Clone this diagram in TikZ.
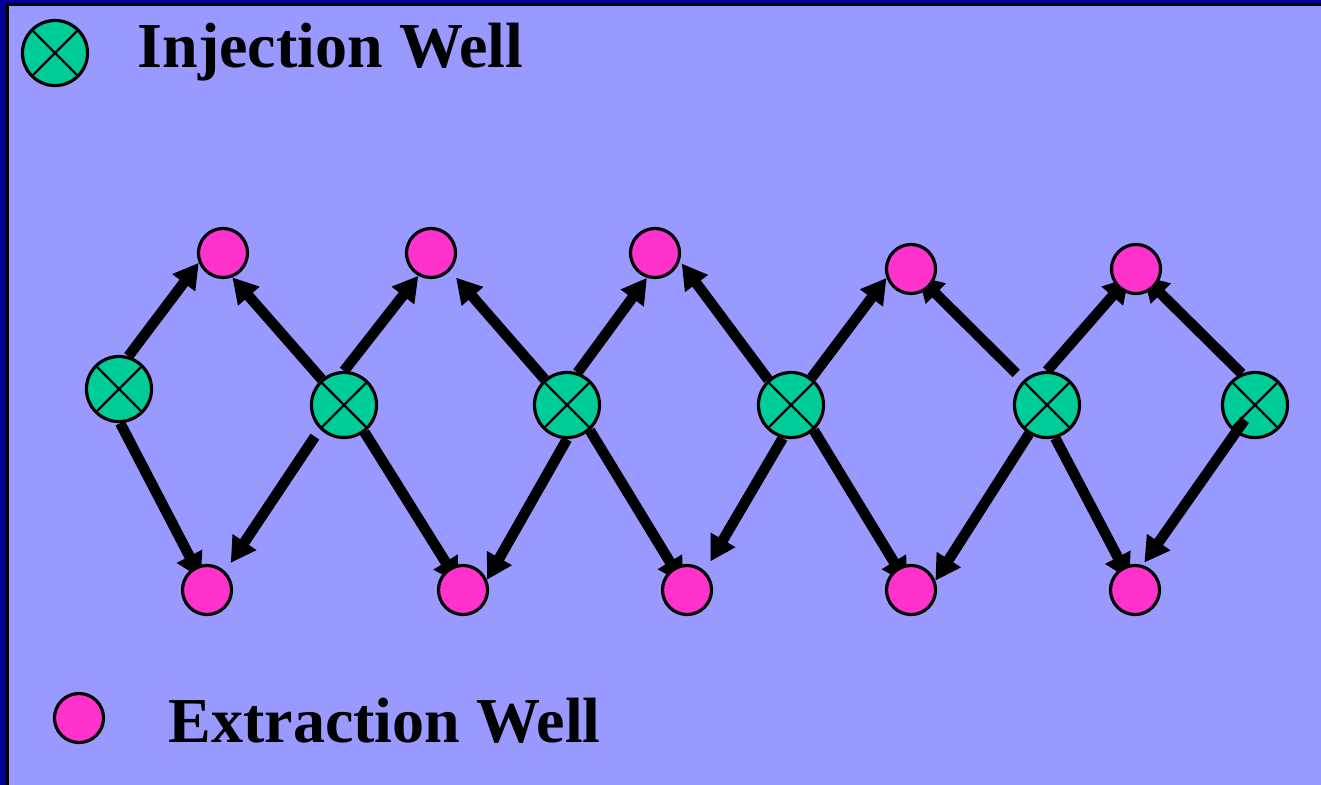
\documentclass[tikz,border=0pt]{standalone}
\usepackage{fontspec}
\setmainfont{Liberation Serif}
\usetikzlibrary{arrows.meta}
\definecolor{bgblue}{HTML}{9999FF}
\definecolor{frameblue}{HTML}{000099}
\definecolor{wellgreen}{HTML}{00CC99}
\definecolor{wellpink}{HTML}{FF33CC}
\pgfdeclarelayer{bg}
\pgfdeclarelayer{arr}
\pgfsetlayers{bg,arr,main}
\tikzset{
  injwell/.style={circle, draw=black, line width=0.032cm, fill=wellgreen,
    minimum size=0.65cm, inner sep=0pt,
    path picture={\draw[line width=0.024cm]
      (path picture bounding box.north east) -- (path picture bounding box.south west)
      (path picture bounding box.north west) -- (path picture bounding box.south east);}},
  extwell/.style={circle, draw=black, line width=0.032cm, fill=wellpink,
    minimum size=0.49cm, inner sep=0pt},
  flow/.style={line width=0.105cm, -{Triangle[length=0.25cm,width=0.27cm]}},
  legendtext/.style={font=\fontsize{18.2pt}{20pt}\selectfont\bfseries, inner sep=0pt, anchor=base west}
}
\begin{document}
\begin{tikzpicture}[x=0.01cm, y=-0.01cm]
\useasboundingbox (0,0) rectangle (1321,785);
\begin{pgfonlayer}{bg}
  \fill[frameblue] (0,0) rectangle (1321,785);
  \fill[black] (6,3.5) rectangle (1321,785);
  \fill[bgblue] (8.5,6) rectangle (1321,785);
\end{pgfonlayer}

% legend
\node[injwell] (LI) at (55,53) {};
\node[legendtext] (LIt) at (137,68) {Injection Well};
\node[extwell] (LE) at (79,718) {};
\node[legendtext] (LEt) at (168,742) {Extraction Well};

% injection wells
\node[injwell] (I1) at (119,389) {};
\node[injwell] (I2) at (344,405) {};
\node[injwell] (I3) at (567,405) {};
\node[injwell] (I4) at (791,405) {};
\node[injwell] (I5) at (1047,405) {};
\node[injwell] (I6) at (1255,405) {};

% extraction wells, top
\node[extwell] (E1) at (223,253) {};
\node[extwell] (E2) at (431,253) {};
\node[extwell] (E3) at (655,253) {};
\node[extwell] (E4) at (911,269) {};
\node[extwell] (E5) at (1136,269) {};

% extraction wells, bottom
\node[extwell] (B1) at (207,590) {};
\node[extwell] (B2) at (463,590) {};
\node[extwell] (B3) at (687,590) {};
\node[extwell] (B4) at (911,590) {};
\node[extwell] (B5) at (1135,590) {};

\begin{pgfonlayer}{arr}
  \draw[flow] (I1.74) -- (E1.202);
  \draw[flow, shorten >=0.13cm] (I1.272) -- (B1.center);
  \draw[flow] (I2.131) -- (E1.291);
  \draw[flow] (I2.90) -- (E2.241);
  \draw[flow, shorten <=0.09cm, shorten >=0.10cm] (I2.225) -- (B1.46);
  \draw[flow, shorten >=0.08cm] (I2.307) -- (B2.center);
  \draw[flow, shorten >=0.09cm] (I3.131) -- (E2.317);
  \draw[flow] (I3.72) -- (E3.252);
  \draw[flow] (I3.270) -- (B2.23);
  \draw[flow, shorten >=0.08cm] (I3.312) -- (B3.center);
  \draw[flow, shorten >=0.03cm] (I4.132) -- (E3.342);
  \draw[flow] (I4.53) -- (E4.200);
  \draw[flow, shorten >=0.11cm] (I4.256) -- (B3.47);
  \draw[flow, shorten >=0.08cm] (I4.312) -- (B4.center);
  \draw[flow, shorten <=0.10cm, shorten >=0.10cm] (I5.134) -- (E4.center);
  \draw[flow, shorten >=0.11cm] (I5.90) -- (E5.center);
  \draw[flow] (I5.238) -- (B4.21);
  \draw[flow, shorten >=0.12cm] (I5.284) -- (B5.center);
  \draw[flow, shorten >=0.10cm] (I6.113) -- (E5.center);
\end{pgfonlayer}
\draw[flow, shorten <=0.18cm, shorten >=0.03cm] (I6.center) -- (B5.73);
\end{tikzpicture}
\end{document}
